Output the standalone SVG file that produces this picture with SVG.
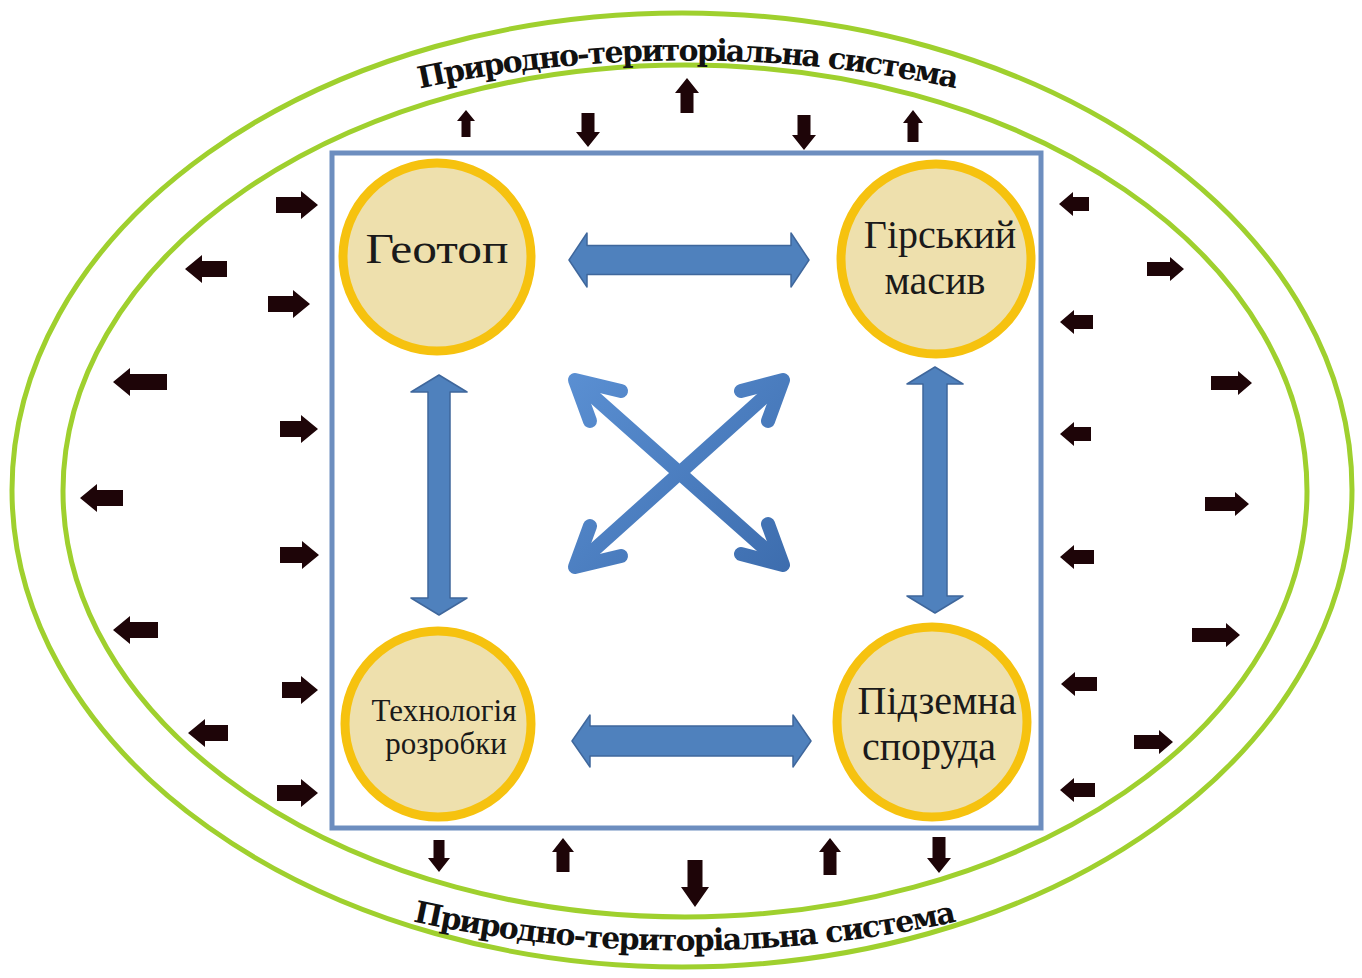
<svg xmlns="http://www.w3.org/2000/svg" width="1362" height="978" viewBox="0 0 1362 978">
<defs>
<style>
.ring{fill:none;stroke:#9fd02e;stroke-width:5}
.pts{font-family:"DejaVu Serif","Liberation Serif",serif;font-weight:bold;font-size:30px;fill:#111}
.box{fill:#fff;stroke:#6d8ebf;stroke-width:5}
.node{fill:#eee0ad;stroke:#f6c20f;stroke-width:9}
.lbl{font-family:"Liberation Serif","Times New Roman",serif;fill:#1a1a1a;text-anchor:middle}
.big{fill:#4f81bd;stroke:#3f679c;stroke-width:1.5;stroke-linejoin:round}
.x{fill:none;stroke:url(#xg);stroke-width:14;stroke-linecap:round;stroke-linejoin:round}
.sa{fill:#1e0508}
</style>
<linearGradient id="xg" gradientUnits="userSpaceOnUse" x1="570" y1="375" x2="788" y2="572">
<stop offset="0" stop-color="#5a8fd2"/>
<stop offset="1" stop-color="#3d6dae"/>
</linearGradient>
<path id="topArc" d="M238,145 A756,430 0 0 1 1138,145"/>
<path id="botArc" d="M235,866 A779,460 0 0 0 1135,866"/>
</defs>
<rect width="1362" height="978" fill="#fff"/>
<g id="system">
<ellipse class="ring" cx="682" cy="490" rx="670" ry="477"/>
<ellipse class="ring" cx="685" cy="491" rx="622" ry="426"/>
<text class="pts"><textPath href="#topArc" startOffset="50%" text-anchor="middle" textLength="540" lengthAdjust="spacing">Природно-територіальна система</textPath></text>
<text class="pts"><textPath href="#botArc" startOffset="50%" text-anchor="middle" textLength="548" lengthAdjust="spacing">Природно-територіальна система</textPath></text>
</g>
<rect id="frame" class="box" x="332" y="153" width="709" height="675"/>
<g id="connectors">
<polygon class="big" points="569,260 587,233 587,245.5 791,245.5 791,233 809,260 791,287 791,274.5 587,274.5 587,287"/>
<polygon class="big" points="572,741 590,715 590,726 793,726 793,715 811,741 793,767 793,756 590,756 590,767"/>
<polygon class="big" points="439,375 467,392 450,392 450,598 467,598 439,615 411,598 428,598 428,392 411,392"/>
<polygon class="big" points="935,367 963,384 947,384 947,596 963,596 935,613 907,596 923,596 923,384 907,384"/>
<line class="x" x1="576" y1="381" x2="782" y2="564"/>
<line class="x" x1="782" y1="381" x2="576" y2="566"/>
<polyline class="x" points="621,391 575,380 590,421"/>
<polyline class="x" points="741,391 783,380 768,421"/>
<polyline class="x" points="621,556 575,567 590,526"/>
<polyline class="x" points="741,554 783,565 768,524"/>
</g>
<g id="flows">
<polygon class="sa" points="276,197 301,197 301,191 318,205 301,219 301,213 276,213"/>
<polygon class="sa" points="185,269 202,255 202,261 227,261 227,277 202,277 202,283"/>
<polygon class="sa" points="268,296 293,296 293,290 310,304 293,318 293,312 268,312"/>
<polygon class="sa" points="113,382 130,368 130,374 167,374 167,390 130,390 130,396"/>
<polygon class="sa" points="280,421 301,421 301,415 318,429 301,443 301,437 280,437"/>
<polygon class="sa" points="80,498 97,484 97,490 123,490 123,506 97,506 97,512"/>
<polygon class="sa" points="280,547 302,547 302,541 319,555 302,569 302,563 280,563"/>
<polygon class="sa" points="113,630 130,616 130,622 158,622 158,638 130,638 130,644"/>
<polygon class="sa" points="282,682 301,682 301,676 318,690 301,704 301,698 282,698"/>
<polygon class="sa" points="188,733 205,719 205,725 228,725 228,741 205,741 205,747"/>
<polygon class="sa" points="277,785 301,785 301,779 318,793 301,807 301,801 277,801"/>
<polygon class="sa" points="1059,204 1073,192 1073,197 1089,197 1089,211 1073,211 1073,216"/>
<polygon class="sa" points="1147,262 1170,262 1170,257 1184,269 1170,281 1170,276 1147,276"/>
<polygon class="sa" points="1060,322 1074,310 1074,315 1093,315 1093,329 1074,329 1074,334"/>
<polygon class="sa" points="1211,376 1238,376 1238,371 1252,383 1238,395 1238,390 1211,390"/>
<polygon class="sa" points="1060,434 1074,422 1074,427 1091,427 1091,441 1074,441 1074,446"/>
<polygon class="sa" points="1205,497 1235,497 1235,492 1249,504 1235,516 1235,511 1205,511"/>
<polygon class="sa" points="1060,557 1074,545 1074,550 1094,550 1094,564 1074,564 1074,569"/>
<polygon class="sa" points="1192,628 1226,628 1226,623 1240,635 1226,647 1226,642 1192,642"/>
<polygon class="sa" points="1061,684 1075,672 1075,677 1097,677 1097,691 1075,691 1075,696"/>
<polygon class="sa" points="1134,735 1159,735 1159,730 1173,742 1159,754 1159,749 1134,749"/>
<polygon class="sa" points="1060,790 1074,778 1074,783 1095,783 1095,797 1074,797 1074,802"/>
<polygon class="sa" points="466,110 475,121 470.5,121 470.5,137 461.5,137 461.5,121 457,121"/>
<polygon class="sa" points="581.5,113 594.5,113 594.5,132 600,132 588,147 576,132 581.5,132"/>
<polygon class="sa" points="687,78 699,93 693.5,93 693.5,113 680.5,113 680.5,93 675,93"/>
<polygon class="sa" points="797.5,115 810.5,115 810.5,135 816,135 804,150 792,135 797.5,135"/>
<polygon class="sa" points="913,110 923,123 918.5,123 918.5,142 907.5,142 907.5,123 903,123"/>
<polygon class="sa" points="433.5,840 444.5,840 444.5,858 450,858 439,872 428,858 433.5,858"/>
<polygon class="sa" points="563,838 574,852 569.5,852 569.5,872 556.5,872 556.5,852 552,852"/>
<polygon class="sa" points="687.5,860 702.5,860 702.5,887 709,887 695,907 681,887 687.5,887"/>
<polygon class="sa" points="830,838 841,852 836.5,852 836.5,875 823.5,875 823.5,852 819,852"/>
<polygon class="sa" points="932.5,837 945.5,837 945.5,858 951,858 939,873 927,858 932.5,858"/>
</g>
<g id="geotop">
<circle class="node" cx="437" cy="257" r="94"/>
<text class="lbl" x="437" y="263" font-size="42" textLength="143" lengthAdjust="spacingAndGlyphs">Геотоп</text>
</g>
<g id="massif">
<circle class="node" cx="936" cy="259" r="95"/>
<text class="lbl" x="940" y="248" font-size="40">Гірський</text>
<text class="lbl" x="935" y="294" font-size="40">масив</text>
</g>
<g id="technology">
<circle class="node" cx="438" cy="724" r="93"/>
<text class="lbl" x="444" y="721" font-size="31">Технологія</text>
<text class="lbl" x="446" y="754" font-size="31">розробки</text>
</g>
<g id="structure">
<circle class="node" cx="932" cy="722" r="95"/>
<text class="lbl" x="937" y="714" font-size="40">Підземна</text>
<text class="lbl" x="929" y="760" font-size="40">споруда</text>
</g>
</svg>
